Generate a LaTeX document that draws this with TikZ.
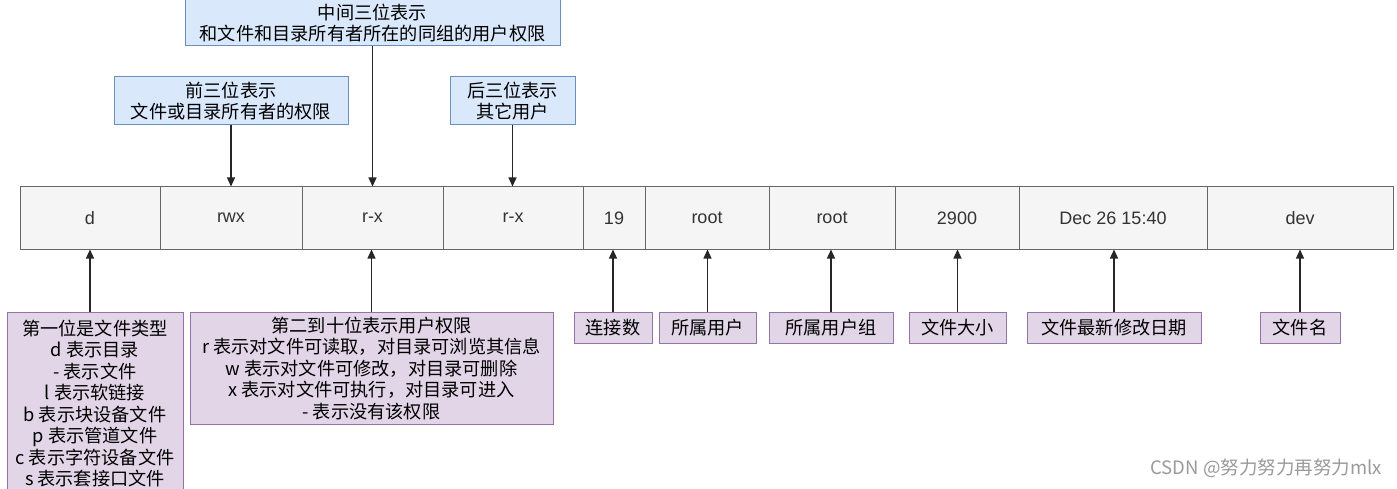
\documentclass[tikz,border=0pt]{standalone}
\usepackage{fontspec}
\setmainfont{Liberation Sans}
\newfontfamily\cjk{Noto Sans CJK SC}
\usetikzlibrary{arrows.meta}
\definecolor{cellfill}{HTML}{F5F5F5}
\definecolor{celldraw}{HTML}{666666}
\definecolor{celltext}{HTML}{333333}
\definecolor{bluefill}{HTML}{DAE8FC}
\definecolor{bluedraw}{HTML}{6C8EBF}
\definecolor{purfill}{HTML}{E1D5E7}
\definecolor{purdraw}{HTML}{9673A6}
\definecolor{wm}{HTML}{9A9A9A}
\tikzset{
  cell/.style={draw=celldraw, fill=cellfill, text=celltext, line width=1pt, minimum height=62pt, inner sep=0pt, font=\fontsize{18}{22}\selectfont},
  topbox/.style={draw=bluedraw, fill=bluefill, line width=1pt, inner sep=0pt, align=center, font=\cjk\fontsize{18.2}{21}\selectfont},
  botbox/.style={draw=purdraw, fill=purfill, line width=1pt, inner sep=0pt, align=center, font=\cjk\fontsize{18.2}{21.5}\selectfont},
  arr/.style={draw=black!85, line width=1.2pt, -{Triangle[width=8pt,length=9pt]}},
}
\begin{document}
\begin{tikzpicture}[x=1pt,y=-1pt]
\useasboundingbox (0,0) rectangle (1397,489);
\fill[white] (0,0) rectangle (1397,489);
% main row
\node[cell, minimum width=140pt] (c1) at (90,218) {d};
\node[cell, minimum width=142pt] (c2) at (231,218) {rwx};
\node[cell, minimum width=141pt] (c3) at (372.5,218) {r-x};
\node[cell, minimum width=140pt] (c4) at (513,218) {r-x};
\node[cell, minimum width=62pt] (c5) at (614,218) {19};
\node[cell, minimum width=124pt] (c6) at (707,218) {root};
\node[cell, minimum width=126pt] (c7) at (832,218) {root};
\node[cell, minimum width=124pt] (c8) at (957,218) {2900};
\node[cell, minimum width=188pt] (c9) at (1113,218) {Dec 26 15:40};
\node[cell, minimum width=186pt] (c10) at (1300,218) {dev};
% top boxes
\node[topbox, minimum width=375pt, minimum height=46pt] (t2) at (372.5,23) {中间三位表示\\和文件和目录所有者所在的同组的用户权限};
\node[topbox, minimum width=234pt, minimum height=48pt] (t1) at (231,101) {前三位表示\\文件或目录所有者的权限};
\node[topbox, minimum width=125pt, minimum height=48pt] (t3) at (512.5,101) {后三位表示\\其它用户};
\draw[arr] (t1.south) -- (t1.south |- c2.north);
\draw[arr] (t2.south) -- (t2.south |- c3.north);
\draw[arr] (t3.south) -- (t3.south |- c4.north);
% bottom boxes
\begin{scope}
\clip (0,0) rectangle (1397,489);
\node[botbox, minimum width=176pt, minimum height=182pt, anchor=north] (b1) at (95,312) {第一位是文件类型\\d 表示目录\\- 表示文件\\l 表示软链接\\b 表示块设备文件\\p 表示管道文件\\c 表示字符设备文件\\s 表示套接口文件};
\end{scope}
\node[botbox, minimum width=363pt, minimum height=112pt, anchor=north] (b2) at (371.5,312) {第二到十位表示用户权限\\r 表示对文件可读取，对目录可浏览其信息\\w 表示对文件可修改，对目录可删除\\x 表示对文件可执行，对目录可进入\\- 表示没有该权限};
\node[botbox, minimum width=78pt, minimum height=31pt, anchor=north] (b3) at (613,312) {连接数};
\node[botbox, minimum width=97pt, minimum height=31pt, anchor=north] (b4) at (707.5,312) {所属用户};
\node[botbox, minimum width=124pt, minimum height=31pt, anchor=north] (b5) at (831,312) {所属用户组};
\node[botbox, minimum width=97pt, minimum height=31pt, anchor=north] (b6) at (957.5,312) {文件大小};
\node[botbox, minimum width=174pt, minimum height=31pt, anchor=north] (b7) at (1114,312) {文件最新修改日期};
\node[botbox, minimum width=80pt, minimum height=31pt, anchor=north] (b8) at (1300,312) {文件名};
\draw[arr] (c1.south |- b1.north) -- (c1.south);
\draw[arr] (b2.north) -- (b2.north |- c3.south);
\draw[arr] (b3.north) -- (b3.north |- c5.south);
\draw[arr] (b4.north) -- (b4.north |- c6.south);
\draw[arr] (b5.north) -- (b5.north |- c7.south);
\draw[arr] (b6.north) -- (b6.north |- c8.south);
\draw[arr] (b7.north) -- (b7.north |- c9.south);
\draw[arr] (b8.north) -- (b8.north |- c10.south);
% watermark
\node[text=wm, anchor=east, inner sep=0pt, font=\cjk\fontsize{18.5}{20}\selectfont] (wmk) at (1382,468) {CSDN @努力努力再努力mlx};
\end{tikzpicture}
\end{document}
